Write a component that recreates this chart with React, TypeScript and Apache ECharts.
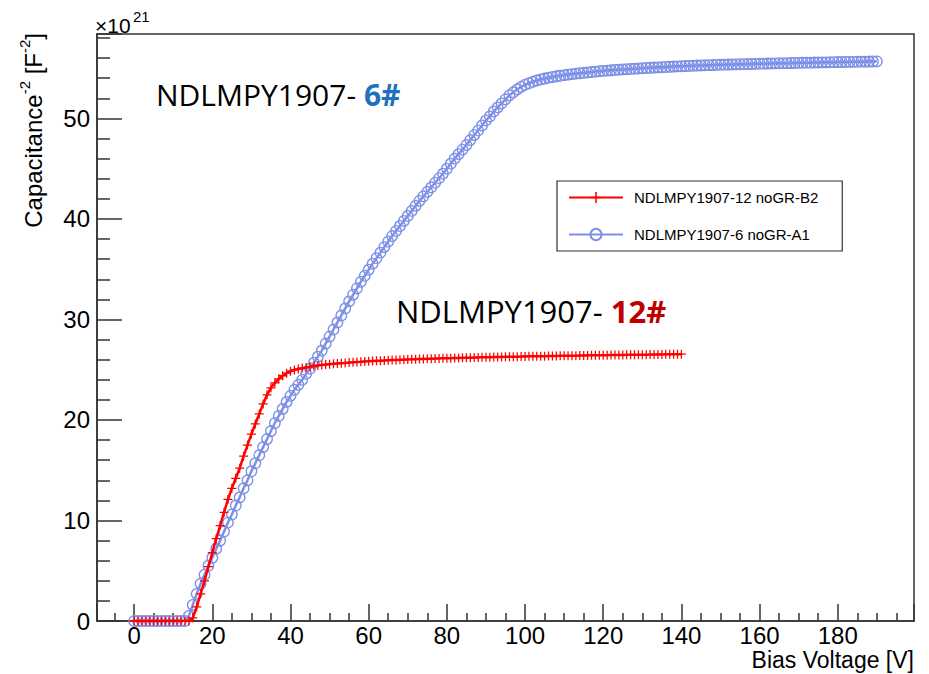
import React, { useEffect, useRef } from "react";
import * as echarts from "echarts";

// Bias voltage step (V) between consecutive measurement points
const VOLTAGE_STEP = 1;

// Capacitance^-2 (×10^21 F^-2), sample NDLMPY1907-12 noGR-B2, V = 0..140
const red12: number[] = [
  0, 0, 0, 0, 0, 0, 0, 0, 0, 0,
  0, 0, 0, 0, 0, 0.3, 1.4, 2.7, 4.0, 5.4,
  6.8, 8.2, 9.5, 10.8, 12.1, 13.2, 14.2, 15.2, 16.4, 17.5,
  18.6, 19.6, 20.6, 21.6, 22.5, 23.2, 23.7, 24.1, 24.4, 24.65,
  24.85, 24.98, 25.08, 25.16, 25.23, 25.3, 25.36, 25.42, 25.47, 25.51,
  25.55, 25.59, 25.62, 25.65, 25.68, 25.71, 25.74, 25.77, 25.79, 25.82,
  25.84, 25.86, 25.88, 25.9, 25.92, 25.94, 25.96, 25.97, 25.99, 26.0,
  26.02, 26.03, 26.05, 26.06, 26.07, 26.09, 26.1, 26.11, 26.12, 26.13,
  26.14, 26.15, 26.16, 26.17, 26.18, 26.19, 26.2, 26.21, 26.22, 26.23,
  26.24, 26.25, 26.26, 26.27, 26.27, 26.28, 26.29, 26.3, 26.3, 26.31,
  26.32, 26.33, 26.33, 26.34, 26.35, 26.35, 26.36, 26.37, 26.37, 26.38,
  26.39, 26.39, 26.4, 26.4, 26.41, 26.42, 26.42, 26.43, 26.43, 26.44,
  26.45, 26.45, 26.46, 26.46, 26.47, 26.47, 26.48, 26.48, 26.49, 26.49,
  26.5, 26.5, 26.51, 26.51, 26.52, 26.52, 26.53, 26.53, 26.54, 26.54,
  26.55,
];

// Capacitance^-2 (×10^21 F^-2), sample NDLMPY1907-6 noGR-A1, V = 0..190
const blue6: number[] = [
  0, 0, 0, 0, 0, 0, 0, 0, 0, 0,
  0, 0, 0, 0, 0.5, 1.6, 2.7, 3.7, 4.6, 5.5,
  6.3, 7.2, 8.0, 8.9, 9.8, 10.6, 11.5, 12.3, 13.2, 14.0,
  14.9, 15.7, 16.5, 17.3, 18.1, 18.9, 19.7, 20.4, 21.1, 21.8,
  22.4, 23.0, 23.5, 24.0, 24.6, 25.1, 25.7, 26.3, 26.9, 27.6,
  28.3, 29.0, 29.7, 30.4, 31.1, 31.8, 32.45, 33.1, 33.75, 34.35,
  34.95, 35.55, 36.1, 36.65, 37.2, 37.75, 38.3, 38.8, 39.3, 39.8,
  40.3, 40.8, 41.3, 41.8, 42.25, 42.7, 43.15, 43.6, 44.05, 44.5,
  45.0, 45.5, 46.0, 46.45, 46.9, 47.35, 47.85, 48.35, 48.8, 49.3,
  49.8, 50.2, 50.7, 51.1, 51.5, 51.9, 52.3, 52.6, 52.9, 53.15,
  53.35, 53.5, 53.65, 53.78, 53.88, 53.97, 54.05, 54.12, 54.19, 54.25,
  54.31, 54.36, 54.41, 54.46, 54.5, 54.54, 54.58, 54.62, 54.66, 54.7,
  54.73, 54.76, 54.79, 54.82, 54.85, 54.88, 54.9, 54.93, 54.95, 54.97,
  55.0, 55.02, 55.04, 55.06, 55.08, 55.1, 55.12, 55.14, 55.16, 55.18,
  55.2, 55.21, 55.23, 55.24, 55.26, 55.27, 55.29, 55.3, 55.31, 55.33,
  55.34, 55.35, 55.36, 55.37, 55.38, 55.39, 55.4, 55.41, 55.42, 55.43,
  55.44, 55.45, 55.46, 55.47, 55.48, 55.49, 55.5, 55.5, 55.51, 55.52,
  55.53, 55.54, 55.55, 55.55, 55.56, 55.57, 55.58, 55.58, 55.59, 55.6,
  55.61, 55.61, 55.62, 55.63, 55.63, 55.64, 55.65, 55.65, 55.66, 55.67,
  55.68,
];

const SERIES_NAMES = ["NDLMPY1907-12 noGR-B2", "NDLMPY1907-6 noGR-A1"];
const X_RANGE = [-9.5, 199.5];
const Y_RANGE = [0, 58.4];

const RED = "#ff0000";
const BLUE = "#7d90e6";
const AXIS = "#333333";
const AXIS_FONT = "Liberation Sans";
const NOTE_FONT = "Open Sans";

const toPairs = (ys: number[]) => ys.map((y, i) => [i * VOLTAGE_STEP, y]);

export default function App() {
  const ref = useRef<HTMLDivElement>(null);

  useEffect(() => {
    if (!ref.current) return;
    const chart = echarts.init(ref.current, null, { renderer: "svg" });
    const axisLineStyle = { color: AXIS, width: 1.5 };

    chart.setOption({
      animation: false,
      backgroundColor: "#ffffff",
      grid: {
        left: 97,
        right: 15,
        top: 34,
        bottom: 53,
        show: true,
        borderColor: AXIS,
        borderWidth: 1.5,
        containLabel: false,
      },
      legend: {
        data: SERIES_NAMES,
        orient: "vertical",
        left: 557,
        top: 181,
        padding: [9, 24, 9, 11],
        itemWidth: 54,
        itemHeight: 14,
        itemGap: 22,
        borderColor: AXIS,
        borderWidth: 1.2,
        selectedMode: false,
        textStyle: {
          fontFamily: AXIS_FONT,
          fontSize: 15,
          color: "#000",
          padding: [0, 0, 0, 6],
        },
      },
      xAxis: {
        type: "value",
        min: X_RANGE[0],
        max: X_RANGE[1],
        splitNumber: 10,
        axisLine: { show: true, onZero: false, lineStyle: axisLineStyle },
        axisTick: { show: true, inside: true, length: 17, lineStyle: axisLineStyle },
        minorTick: { show: true, splitNumber: 4, length: 8, lineStyle: axisLineStyle },
        splitLine: { show: false },
        axisLabel: {
          showMinLabel: false,
          showMaxLabel: false,
          fontFamily: AXIS_FONT,
          fontSize: 24,
          color: "#000",
          margin: 2,
        },
      },
      yAxis: {
        type: "value",
        min: Y_RANGE[0],
        max: Y_RANGE[1],
        interval: 10,
        axisLine: { show: true, onZero: false, lineStyle: axisLineStyle },
        axisTick: { show: true, inside: true, length: 25, lineStyle: axisLineStyle },
        minorTick: { show: true, splitNumber: 5, length: 13, lineStyle: axisLineStyle },
        splitLine: { show: false },
        axisLabel: {
          showMaxLabel: false,
          fontFamily: AXIS_FONT,
          fontSize: 24,
          color: "#000",
          margin: 7,
        },
      },
      graphic: [
        {
          type: "text",
          x: 33,
          y: 33,
          rotation: Math.PI / 2,
          silent: true,
          style: {
            text: "{m|Capacitance}{s|-2}{m| [F}{s|-2}{m|]}",
            align: "right",
            verticalAlign: "middle",
            rich: {
              m: { fontFamily: AXIS_FONT, fontSize: 24, fill: "#000", lineHeight: 32 },
              s: { fontFamily: AXIS_FONT, fontSize: 15, fill: "#000", lineHeight: 15, verticalAlign: "top" },
            },
          },
        },
        {
          type: "text",
          x: 914,
          y: 660,
          silent: true,
          style: {
            text: "Bias Voltage [V]",
            align: "right",
            verticalAlign: "middle",
            fontFamily: AXIS_FONT,
            fontSize: 23,
            fill: "#000",
          },
        },
        {
          type: "text",
          x: 95,
          y: 25,
          silent: true,
          style: {
            text: "×10",
            align: "left",
            verticalAlign: "middle",
            fontFamily: AXIS_FONT,
            fontSize: 21,
            fill: "#000",
          },
        },
        {
          type: "text",
          x: 133,
          y: 16,
          silent: true,
          style: {
            text: "21",
            align: "left",
            verticalAlign: "middle",
            fontFamily: AXIS_FONT,
            fontSize: 15,
            fill: "#000",
          },
        },
        {
          type: "text",
          x: 156,
          y: 94,
          silent: true,
          style: {
            text: "{a|NDLMPY1907- }{b|6#}",
            align: "left",
            verticalAlign: "middle",
            rich: {
              a: { fontFamily: NOTE_FONT, fontSize: 30, fill: "#000" },
              b: { fontFamily: NOTE_FONT, fontSize: 30, fontWeight: "bold", fill: "#1f70bd" },
            },
          },
        },
        {
          type: "text",
          x: 396,
          y: 311,
          silent: true,
          style: {
            text: "{a|NDLMPY1907- }{b|12#}",
            align: "left",
            verticalAlign: "middle",
            rich: {
              a: { fontFamily: NOTE_FONT, fontSize: 31, fill: "#000" },
              b: { fontFamily: NOTE_FONT, fontSize: 31, fontWeight: "bold", fill: "#c00000" },
            },
          },
        },
      ],
      series: [
        {
          name: SERIES_NAMES[1],
          type: "line",
          data: toPairs(blue6),
          symbol: "circle",
          symbolSize: 10.5,
          showSymbol: true,
          lineStyle: { color: BLUE, width: 2.5 },
          itemStyle: { color: "rgba(255,255,255,0)", borderColor: BLUE, borderWidth: 1.3 },
          emphasis: { disabled: true },
          silent: true,
          z: 2,
        },
        {
          name: SERIES_NAMES[0],
          type: "line",
          data: toPairs(red12),
          symbol: "path://M4.3,0H5.7V4.3H10V5.7H5.7V10H4.3V5.7H0V4.3H4.3Z",
          symbolSize: 9,
          showSymbol: true,
          lineStyle: { color: RED, width: 2.5 },
          itemStyle: { color: RED, borderWidth: 0 },
          emphasis: { disabled: true },
          silent: true,
          z: 3,
        },
      ],
    });

    return () => chart.dispose();
  }, []);

  return (
    <div
      ref={ref}
      style={{ position: "fixed", left: 0, top: 0, width: 929, height: 674, background: "#fff" }}
    />
  );
}
